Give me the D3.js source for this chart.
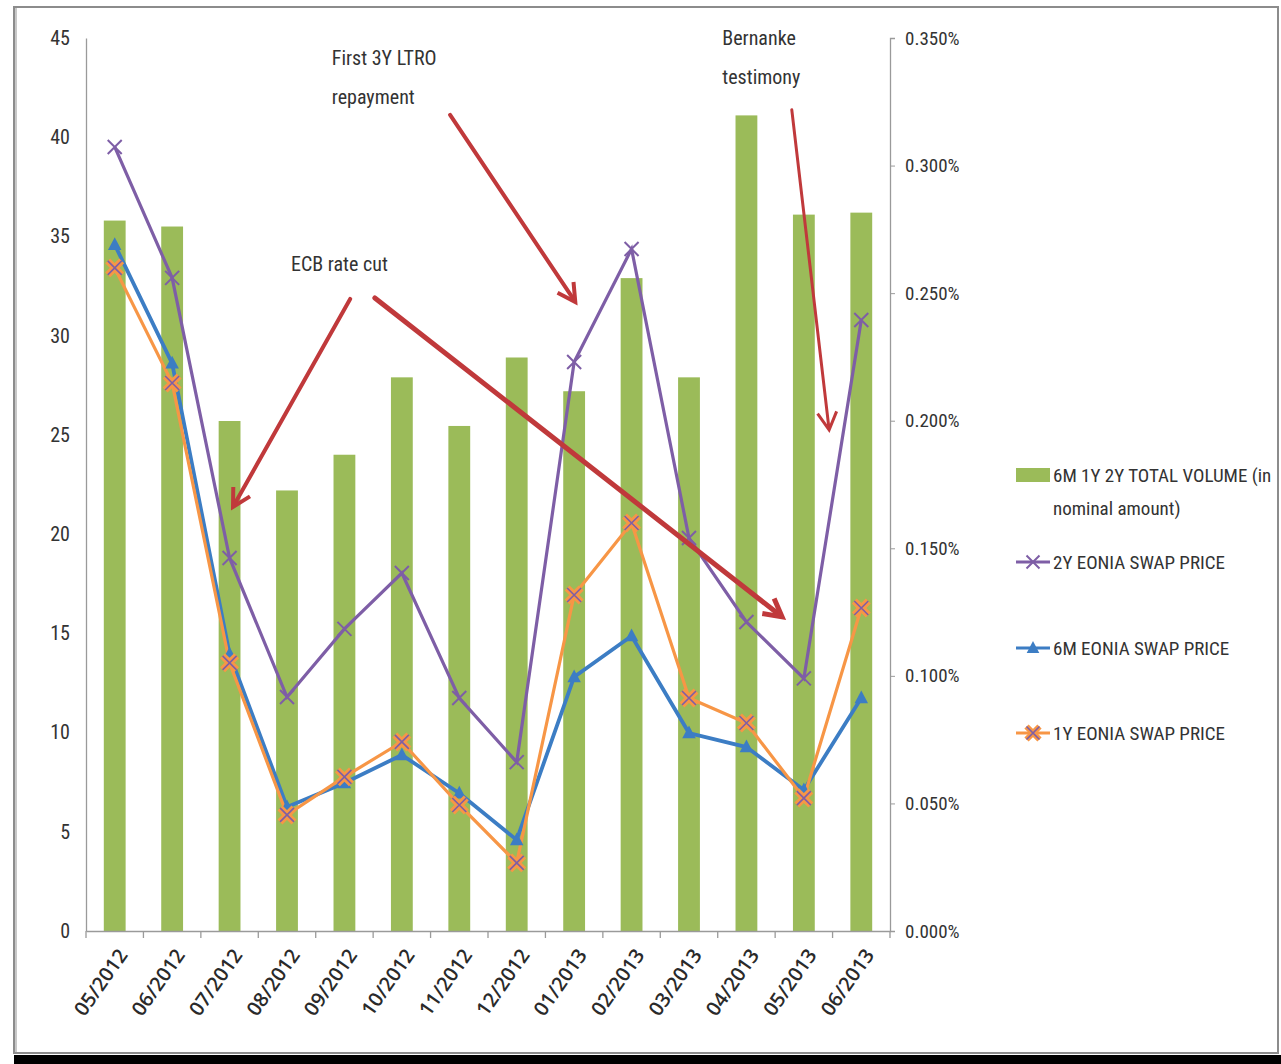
<!DOCTYPE html>
<html><head><meta charset="utf-8">
<script src="https://cdn.jsdelivr.net/npm/d3@7"></script>
<style>
html,body{margin:0;padding:0;background:#fff;}
svg{display:block;}
text{font-family:"Liberation Sans Narrow","Arial Narrow","Roboto Condensed","Liberation Sans",sans-serif;}
text.xl{font-family:"Open Sans","Liberation Sans",sans-serif;}
</style></head>
<body>
<svg id="chart" width="1281" height="1064"></svg>
<script>
// ---------- data ----------
const categories = ["05/2012","06/2012","07/2012","08/2012","09/2012","10/2012","11/2012","12/2012","01/2013","02/2013","03/2013","04/2013","05/2013","06/2013"];
const volume   = [35.8, 35.5, 25.7, 22.2, 24.0, 27.9, 25.45, 28.9, 27.2, 32.9, 27.9, 41.1, 36.1, 36.2];
const swap2Y   = [0.3073, 0.2560, 0.1462, 0.0917, 0.1184, 0.1403, 0.0913, 0.0662, 0.2230, 0.2673, 0.1540, 0.1211, 0.0990, 0.2395];
const swap6M   = [0.2690, 0.2225, 0.1085, 0.0486, 0.0580, 0.0690, 0.0540, 0.0357, 0.0996, 0.1156, 0.0776, 0.0721, 0.0553, 0.0913];
const swap1Y   = [0.2599, 0.2148, 0.1051, 0.0455, 0.0604, 0.0741, 0.0494, 0.0267, 0.1317, 0.1599, 0.0913, 0.0815, 0.0521, 0.1266];
const leftTicks  = [0,5,10,15,20,25,30,35,40,45];
const rightTicks = [0,0.05,0.10,0.15,0.20,0.25,0.30,0.35];
const legendLabels = [["6M 1Y 2Y TOTAL VOLUME (in","nominal amount)"],["2Y EONIA SWAP PRICE"],["6M EONIA SWAP PRICE"],["1Y EONIA SWAP PRICE"]];
// annotations: text lines and arrows in (category index, left-axis value)
const annoTexts = [
  {lines:["First 3Y LTRO","repayment"], i:3.78, v:44.0},
  {lines:["ECB rate cut"], i:3.07, v:33.6},
  {lines:["Bernanke","testimony"], i:10.58, v:45.0}
];
const arrows = [
  {from:[4.10,31.85], to:[2.06,21.37], w:4},
  {from:[4.53,31.9],  to:[11.62,15.83], w:5},
  {from:[5.84,41.13], to:[8.02,31.7], w:4},
  {from:[11.79,41.38], to:[12.44,25.25], w:3}
];

// ---------- layout ----------
const L=86, R=890, T=38, B=931;
const C = {green:"#9BBB59", purple:"#7E5EA6", blue:"#3C7DC4", orange:"#F79646", red:"#C0393B", text:"#333"};
const svg = d3.select("#chart");

// frame
svg.append("rect").attr("x",14).attr("y",7).attr("width",1264).attr("height",1046)
  .attr("fill","#fff").attr("stroke","#8c8c8c").attr("stroke-width",2);
svg.append("line").attr("x1",16).attr("x2",16).attr("y1",8).attr("y2",1052).attr("stroke","#c8c8c8").attr("stroke-width",2);
svg.append("rect").attr("x",14).attr("y",1055).attr("width",1267).attr("height",9).attr("fill","#000");

const x = d3.scaleBand().domain(categories).range([L,R]).paddingInner(0.62).paddingOuter(0.31);
const yL = d3.scaleLinear().domain([0,45]).range([B,T]);
const yR = d3.scaleLinear().domain([0,0.35]).range([B,T]);
const cx = c => x(c)+x.bandwidth()/2;
const xi = i => x(categories[0])+x.bandwidth()/2 + i*x.step();

// bars
svg.append("g").selectAll("rect").data(categories).join("rect")
  .attr("x",c=>x(c)).attr("width",x.bandwidth())
  .attr("y",(c,i)=>yL(volume[i])).attr("height",(c,i)=>B-yL(volume[i]))
  .attr("fill",C.green);

// axes
const gl = svg.append("g").attr("transform",`translate(${L},0)`)
  .call(d3.axisLeft(yL).tickValues(leftTicks).tickSize(0).tickPadding(16));
gl.select(".domain").attr("stroke","#9a9a9a").attr("stroke-width",1.3);
gl.selectAll("text").attr("font-size",20).attr("fill",C.text);

const gr = svg.append("g").attr("transform",`translate(${R},0)`)
  .call(d3.axisRight(yR).tickValues(rightTicks).tickSize(5).tickPadding(10).tickFormat(d=>d.toFixed(3)+"%"));
gr.select(".domain").attr("stroke","#9a9a9a").attr("stroke-width",1.3);
gr.selectAll("line").attr("stroke","#9a9a9a");
gr.selectAll("text").attr("font-size",19).attr("fill",C.text);

const gb = svg.append("g").attr("transform",`translate(0,${B})`)
  .call(d3.axisBottom(x).tickSize(0).tickPadding(0));
gb.select(".domain").attr("stroke","#9a9a9a").attr("stroke-width",1.3);
gb.selectAll("text").attr("class","xl")
  .attr("font-size",20).attr("font-weight",600).attr("fill","#2a2a2a")
  .attr("text-anchor","end").attr("dy","0.35em").attr("y",0)
  .attr("transform","translate(8,20) rotate(-55)");
// boundary ticks
const bounds = categories.map(c=>x(c)-(x.step()-x.bandwidth())/2).concat([R]);
svg.append("g").selectAll("line").data(bounds).join("line")
  .attr("x1",d=>d).attr("x2",d=>d).attr("y1",B).attr("y2",B+7)
  .attr("stroke","#9a9a9a").attr("stroke-width",1.3);

// lines
const lineGen = vals => d3.line().x((d,i)=>cx(categories[i])).y(d=>yR(d))(vals);
function xMark(g, px, py, s, col, w){
  g.append("path").attr("d",`M${px-s},${py-s}L${px+s},${py+s}M${px-s},${py+s}L${px+s},${py-s}`)
   .attr("stroke",col).attr("stroke-width",w).attr("fill","none");
}
function triMark(g, px, py, s, col){
  g.append("path").attr("d",`M${px},${py-s}L${px+s*0.9},${py+s*0.7}L${px-s*0.9},${py+s*0.7}Z`).attr("fill",col);
}
// 2Y
svg.append("path").attr("d",lineGen(swap2Y)).attr("fill","none").attr("stroke",C.purple).attr("stroke-width",3.2);
// 6M
svg.append("path").attr("d",lineGen(swap6M)).attr("fill","none").attr("stroke",C.blue).attr("stroke-width",3.8);
// 1Y
svg.append("path").attr("d",lineGen(swap1Y)).attr("fill","none").attr("stroke",C.orange).attr("stroke-width",3.2);

const gm = svg.append("g");
swap2Y.forEach((v,i)=>xMark(gm,cx(categories[i]),yR(v),7,C.purple,2));
swap6M.forEach((v,i)=>triMark(gm,cx(categories[i]),yR(v),7.5,C.blue));
swap1Y.forEach((v,i)=>{const px=cx(categories[i]),py=yR(v);
  xMark(gm,px,py,7,C.orange,7); xMark(gm,px,py,7,C.purple,1.6);});

// annotations
const ga = svg.append("g");
annoTexts.forEach(a=>{
  a.lines.forEach((ln,k)=>{
    ga.append("text").attr("x",xi(a.i)).attr("y",yL(a.v)+k*39).attr("dy","0.35em")
      .attr("font-size",20).attr("fill",C.text).text(ln);
  });
});
arrows.forEach(a=>{
  const x1=xi(a.from[0]), y1=yL(a.from[1]), x2=xi(a.to[0]), y2=yL(a.to[1]);
  const ang=Math.atan2(y2-y1,x2-x1), hl=20, ha=0.5;
  ga.append("line").attr("x1",x1).attr("y1",y1).attr("x2",x2-Math.cos(ang)*3).attr("y2",y2-Math.sin(ang)*3)
    .attr("stroke",C.red).attr("stroke-width",a.w).attr("stroke-linecap","round");
  const p1=[x2-hl*Math.cos(ang-ha), y2-hl*Math.sin(ang-ha)];
  const p2=[x2-hl*Math.cos(ang+ha), y2-hl*Math.sin(ang+ha)];
  ga.append("path").attr("d",`M${p1}L${x2},${y2}L${p2}`).attr("fill","none")
    .attr("stroke",C.red).attr("stroke-width",a.w).attr("stroke-linejoin","miter");
});

// legend
const lg = svg.append("g");
const lgY = [475, 562, 648, 733];
lg.append("rect").attr("x",1016).attr("y",lgY[0]-7).attr("width",34).attr("height",14).attr("fill",C.green);
[[C.purple,"x"],[C.blue,"tri"],[C.orange,"ox"]].forEach((s,k)=>{
  const yy=lgY[k+1];
  lg.append("line").attr("x1",1016).attr("x2",1050).attr("y1",yy).attr("y2",yy).attr("stroke",s[0]).attr("stroke-width",3);
  if(s[1]==="x") xMark(lg,1033,yy,6.5,C.purple,2);
  if(s[1]==="tri") triMark(lg,1033,yy,7,C.blue);
  if(s[1]==="ox"){xMark(lg,1033,yy,6.5,C.orange,6);xMark(lg,1033,yy,6.5,C.purple,1.6);}
});
legendLabels.forEach((lines,k)=>{
  lines.forEach((ln,j)=>{
    lg.append("text").attr("x",1053).attr("y",lgY[k]+j*33).attr("dy","0.35em")
      .attr("font-size",19).attr("fill",C.text).text(ln);
  });
});
</script>
</body></html>
